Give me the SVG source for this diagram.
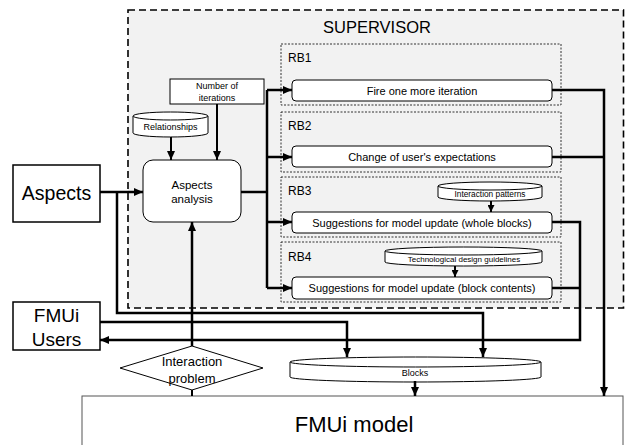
<svg xmlns="http://www.w3.org/2000/svg" width="625" height="445" viewBox="0 0 625 445">
<style>
text{font-family:"Liberation Sans",Arial,sans-serif;fill:#000}
.box{fill:#fff;stroke:#000;stroke-width:1.5}
.rbox{fill:#fff;stroke:#000;stroke-width:1}
.rb{fill:none;stroke:#000;stroke-width:0.8;stroke-dasharray:2,1.5}
.cyl{fill:#fff;stroke:#000;stroke-width:1}
.c{fill:none;stroke:#000;stroke-width:2.5}
.cs{fill:none;stroke:#000;stroke-width:2}
</style>
<defs>
<marker id="ah" markerUnits="userSpaceOnUse" markerWidth="9" markerHeight="8" refX="9" refY="4" orient="auto"><path d="M0,0 L9,4 L0,8 z" fill="#000"/></marker>
<marker id="as" markerUnits="userSpaceOnUse" markerWidth="7" markerHeight="7" refX="7" refY="3.5" orient="auto"><path d="M0,0 L7,3.5 L0,7 z" fill="#000"/></marker>
</defs>

<g id="supervisor">
<rect x="128" y="10" width="495.5" height="298" fill="#f2f2f2" stroke="#000" stroke-width="1.6" stroke-dasharray="7,4"/>
<text x="377" y="33" font-size="16.5" text-anchor="middle">SUPERVISOR</text>
</g>

<g id="fmui-model">
<rect x="82" y="396" width="541" height="60" fill="#fff" stroke="#555" stroke-width="1"/>
<text x="354" y="432" font-size="22" text-anchor="middle">FMUi model</text>
</g>

<g id="rb1">
<rect class="rb" x="281" y="44" width="280" height="61"/>
<text x="288" y="62" font-size="12">RB1</text>
</g>
<g id="rb2">
<rect class="rb" x="281" y="112" width="280" height="60"/>
<text x="288" y="130" font-size="12">RB2</text>
</g>
<g id="rb3">
<rect class="rb" x="281" y="177" width="280" height="60"/>
<text x="288" y="195" font-size="12">RB3</text>
</g>
<g id="rb4">
<rect class="rb" x="281" y="242" width="280" height="60"/>
<text x="288" y="261" font-size="12">RB4</text>
</g>

<g id="fire">
<rect class="rbox" x="292" y="80" width="260" height="21" rx="4"/>
<text x="422" y="94.5" font-size="11" text-anchor="middle">Fire one more iteration</text>
</g>
<g id="change">
<rect class="rbox" x="292" y="146" width="260" height="21" rx="4"/>
<text x="422" y="160.5" font-size="11" text-anchor="middle">Change of user's expectations</text>
</g>
<g id="whole">
<rect class="rbox" x="292" y="212" width="260" height="21" rx="4"/>
<text x="422" y="226.5" font-size="11" text-anchor="middle">Suggestions for model update (whole blocks)</text>
</g>
<g id="contents">
<rect class="rbox" x="292" y="277" width="260" height="22" rx="4"/>
<text x="422" y="292" font-size="11" text-anchor="middle">Suggestions for model update (block contents)</text>
</g>

<g id="interaction-patterns">
<path class="cyl" d="M438,186 A52,4 0 0 1 542,186 V197 A52,4 0 0 1 438,197 Z"/>
<path class="cyl" d="M438,186 A52,4 0 0 0 542,186"/>
<text x="490" y="197" font-size="8.3" text-anchor="middle">Interaction patterns</text>
</g>
<g id="tech-guidelines">
<path class="cyl" d="M385,251 A78.5,4 0 0 1 542,251 V262 A78.5,4 0 0 1 385,262 Z"/>
<path class="cyl" d="M385,251 A78.5,4 0 0 0 542,251"/>
<text x="464" y="262" font-size="8" text-anchor="middle">Technological design guidelines</text>
</g>

<g id="relationships">
<path class="cyl" d="M133,116 A37.5,4 0 0 1 208,116 V133 A37.5,4 0 0 1 133,133 Z"/>
<path class="cyl" d="M133,116 A37.5,4 0 0 0 208,116"/>
<text x="170.5" y="130" font-size="9" text-anchor="middle">Relationships</text>
</g>
<g id="iterations">
<rect x="170" y="79" width="94" height="25" fill="#fff" stroke="#000" stroke-width="1"/>
<text x="217" y="89" font-size="9" text-anchor="middle">Number of</text>
<text x="217" y="101" font-size="9" text-anchor="middle">iterations</text>
</g>
<g id="aspects-analysis">
<rect class="rbox" x="143" y="160" width="98" height="62" rx="10"/>
<text x="192" y="189" font-size="11.5" text-anchor="middle">Aspects</text>
<text x="192" y="203" font-size="11.5" text-anchor="middle">analysis</text>
</g>

<g id="aspects">
<rect class="box" x="13" y="165" width="87" height="57"/>
<text x="56.5" y="200" font-size="19.5" text-anchor="middle">Aspects</text>
</g>
<g id="users">
<rect class="box" x="13" y="302" width="87" height="48"/>
<text x="56.5" y="322" font-size="19" text-anchor="middle">FMUi</text>
<text x="56.5" y="346" font-size="19" text-anchor="middle">Users</text>
</g>

<g id="interaction-problem">
<path d="M192,346 L263,368 L192,390 L120,368 Z" fill="#fff" stroke="#000" stroke-width="1"/>
<text x="192" y="366" font-size="13" text-anchor="middle">Interaction</text>
<text x="192" y="383" font-size="13" text-anchor="middle">problem</text>
</g>

<g id="blocks">
<path class="cyl" d="M290,362 A125.5,5 0 0 1 541,362 V377 A125.5,5 0 0 1 290,377 Z"/>
<path class="cyl" d="M290,362 A125.5,5 0 0 0 541,362"/>
<text x="415" y="376" font-size="9" text-anchor="middle">Blocks</text>
</g>

<g id="connectors">
<path class="c" d="M100,192 H143" marker-end="url(#ah)"/>
<path class="c" d="M117,192 V313 H483 V357" marker-end="url(#ah)"/>
<path class="c" d="M100,322 H347 V357" marker-end="url(#ah)"/>
<path class="c" d="M552,222 H580 V340 H100" marker-end="url(#ah)"/>
<path class="c" d="M552,288 H580"/>
<path class="c" d="M552,90 H604 V396" marker-end="url(#ah)"/>
<path class="c" d="M552,157 H604"/>
<path class="c" d="M241,192 H267"/>
<path class="c" d="M267,90 V288"/>
<path class="c" d="M267,90 H292" marker-end="url(#ah)"/>
<path class="c" d="M267,157 H292" marker-end="url(#ah)"/>
<path class="c" d="M267,222 H292" marker-end="url(#ah)"/>
<path class="c" d="M267,288 H292" marker-end="url(#ah)"/>
<path class="c" d="M192,346 V222" marker-end="url(#ah)"/>
<path class="cs" d="M192,390 V396"/>
<path class="c" d="M415,381 V396" marker-end="url(#ah)"/>
<path class="cs" d="M171,137 V160" marker-end="url(#ah)"/>
<path class="cs" d="M217,104 V160" marker-end="url(#ah)"/>
<path class="cs" d="M491,201 V212" marker-end="url(#as)"/>
<path class="cs" d="M455,266 V277" marker-end="url(#as)"/>
</g>
</svg>
